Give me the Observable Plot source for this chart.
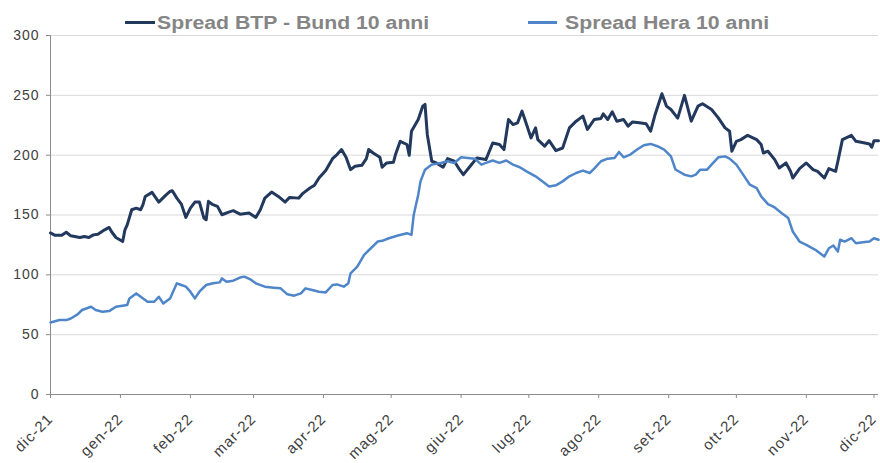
<!DOCTYPE html>
<html>
<head>
<meta charset="utf-8">
<script src="https://cdn.jsdelivr.net/npm/d3@7"></script>
<script src="https://cdn.jsdelivr.net/npm/@observablehq/plot@0.6"></script>
<style>
  body { margin: 0; background: #fff; }
  #wrap { position: relative; width: 880px; height: 463px; overflow: hidden; }
  #chart svg text { letter-spacing: 1px; }
  .sw { position: absolute; height: 3px; }
  .lt { position: absolute; font: bold 18px "Liberation Sans", Arial, sans-serif; color: #858585;
        line-height: 18px; white-space: nowrap; transform: scaleX(1.18); transform-origin: 0 0; }
</style>
</head>
<body>
<div id="wrap">
  <div id="chart"></div>
  <div id="legend"></div>
</div>
<script>
// ---- data ----
const seriesNames = ["Spread BTP - Bund 10 anni", "Spread Hera 10 anni"];
const seriesColors = ["#22385c", "#4f86c9"];

const tickDates = ["2021-12-01","2022-01-01","2022-02-01","2022-03-01","2022-04-01","2022-05-01","2022-06-01","2022-07-01","2022-08-01","2022-09-01","2022-10-01","2022-11-01","2022-12-01"];
const tickLabels = ["dic-21","gen-22","feb-22","mar-22","apr-22","mag-22","giu-22","lug-22","ago-22","set-22","ott-22","nov-22","dic-22"];
const yTicks = [0, 50, 100, 150, 200, 250, 300];

const btpDates = ["2021-12-01","2021-12-03","2021-12-06","2021-12-08","2021-12-10","2021-12-14","2021-12-16","2021-12-18","2021-12-20","2021-12-22","2021-12-25","2021-12-27","2021-12-28","2021-12-30",
"2022-01-02","2022-01-03","2022-01-04","2022-01-06","2022-01-08","2022-01-10","2022-01-11","2022-01-12","2022-01-15","2022-01-18","2022-01-21","2022-01-23","2022-01-24","2022-01-26","2022-01-28","2022-01-30",
"2022-02-01","2022-02-03","2022-02-05","2022-02-07","2022-02-08","2022-02-09","2022-02-11","2022-02-13","2022-02-15","2022-02-18","2022-02-20","2022-02-23","2022-02-27",
"2022-03-02","2022-03-04","2022-03-06","2022-03-09","2022-03-12","2022-03-15","2022-03-17","2022-03-21","2022-03-23","2022-03-26","2022-03-28","2022-03-30",
"2022-04-02","2022-04-05","2022-04-07","2022-04-09","2022-04-11","2022-04-13","2022-04-15","2022-04-18","2022-04-20","2022-04-21","2022-04-23","2022-04-26","2022-04-27","2022-04-29",
"2022-05-02","2022-05-03","2022-05-05","2022-05-08","2022-05-09","2022-05-10","2022-05-13","2022-05-15","2022-05-16","2022-05-17","2022-05-19","2022-05-21","2022-05-24","2022-05-26","2022-05-29","2022-05-31",
"2022-06-02","2022-06-05","2022-06-08","2022-06-12","2022-06-15","2022-06-18","2022-06-20","2022-06-22","2022-06-24","2022-06-26","2022-06-28","2022-06-29",
"2022-07-02","2022-07-04","2022-07-05","2022-07-08","2022-07-10","2022-07-13","2022-07-16","2022-07-19","2022-07-22","2022-07-25","2022-07-27","2022-07-30",
"2022-08-02","2022-08-03","2022-08-05","2022-08-07","2022-08-09","2022-08-12","2022-08-14","2022-08-16","2022-08-19","2022-08-22","2022-08-24","2022-08-26","2022-08-29","2022-08-31",
"2022-09-02","2022-09-05","2022-09-08","2022-09-11","2022-09-14","2022-09-16","2022-09-20","2022-09-23","2022-09-26","2022-09-28","2022-09-29",
"2022-10-01","2022-10-03","2022-10-06","2022-10-10","2022-10-12","2022-10-13","2022-10-15","2022-10-18","2022-10-20","2022-10-23","2022-10-25","2022-10-26","2022-10-29",
"2022-11-01","2022-11-04","2022-11-06","2022-11-09","2022-11-11","2022-11-14","2022-11-15","2022-11-17","2022-11-21","2022-11-23","2022-11-27","2022-11-29","2022-11-30","2022-12-01","2022-12-03"];
const btpValues = [135,133,133,135.6,132.6,131.2,132,131.2,133.4,134,137.6,139.6,136.2,131.2,
127.8,137.6,141.8,154.4,155.7,154.4,158.6,165.5,168.9,160.8,166.4,169.7,170.3,164.1,159.1,148,
155.7,160.8,160.8,147.4,146,161.4,158.6,157.2,150.2,152.4,153.6,150.7,151.6,
148,154.4,164.1,169.2,165.5,160.8,164.7,164.1,168.3,172.5,174.8,180.9,
187.1,197.1,200.5,204.7,198.2,187.9,190.7,191.5,197.1,204.7,201.8,198.2,189.9,193.5,
194,201,211.6,208.9,199.9,220,229.8,241,242.4,217.3,194.9,193.5,189.9,197.1,194.9,188.8,
183.7,190.7,197.7,196.3,210.2,208.9,204.7,229.8,225.6,227,236.8,231.2,
214.4,222.8,213,207.5,212.1,203.8,206,222.8,228.4,232.6,221.5,229.8,
230.7,234.5,229.8,236.2,228.4,229.8,224.2,227.8,227,226.2,220,234,251.3,241,
238.2,231,250,228.4,241,243,238.2,231.2,222.8,220,203.3,
211.6,213,216.6,213,208.9,201.8,203.3,196.3,189.3,193.5,186.5,180.9,188.8,
193.5,187.9,186.5,180.9,188.8,186.5,194.9,213,216.6,211.6,210.2,209.4,206.6,212.1,212.1];

const heraDates = ["2021-12-01","2021-12-05","2021-12-08","2021-12-10","2021-12-13","2021-12-15","2021-12-19","2021-12-21","2021-12-24","2021-12-27","2021-12-30",
"2022-01-04","2022-01-05","2022-01-08","2022-01-10","2022-01-13","2022-01-16","2022-01-18","2022-01-20","2022-01-23","2022-01-26","2022-01-28","2022-01-30",
"2022-02-01","2022-02-03","2022-02-05","2022-02-08","2022-02-11","2022-02-14","2022-02-15","2022-02-17","2022-02-20","2022-02-23","2022-02-25","2022-02-28",
"2022-03-02","2022-03-06","2022-03-10","2022-03-13","2022-03-16","2022-03-19","2022-03-22","2022-03-24","2022-03-27","2022-03-30",
"2022-04-02","2022-04-05","2022-04-07","2022-04-10","2022-04-12","2022-04-13","2022-04-16","2022-04-19","2022-04-22","2022-04-25","2022-04-27","2022-04-30",
"2022-05-04","2022-05-08","2022-05-10","2022-05-11","2022-05-13","2022-05-14","2022-05-16","2022-05-19","2022-05-23","2022-05-26","2022-05-29",
"2022-06-01","2022-06-04","2022-06-07","2022-06-10","2022-06-12","2022-06-15","2022-06-18","2022-06-21","2022-06-24","2022-06-27","2022-06-30",
"2022-07-04","2022-07-08","2022-07-10","2022-07-13","2022-07-16","2022-07-19","2022-07-22","2022-07-25","2022-07-28","2022-07-30",
"2022-08-02","2022-08-05","2022-08-08","2022-08-10","2022-08-12","2022-08-15","2022-08-18","2022-08-21","2022-08-24","2022-08-27","2022-08-30",
"2022-09-02","2022-09-04","2022-09-08","2022-09-11","2022-09-13","2022-09-15","2022-09-18","2022-09-20","2022-09-23","2022-09-26","2022-09-28",
"2022-10-01","2022-10-04","2022-10-07","2022-10-10","2022-10-12","2022-10-15","2022-10-18","2022-10-21","2022-10-24","2022-10-26","2022-10-29",
"2022-11-01","2022-11-05","2022-11-09","2022-11-11","2022-11-13","2022-11-15","2022-11-16","2022-11-18","2022-11-21","2022-11-23","2022-11-26","2022-11-29","2022-12-01","2022-12-03"];
const heraValues = [60.2,62.2,62.2,63.5,66.9,70.6,73.3,70.6,69.2,69.7,73.3,
74.8,80.3,84.5,81.7,77.5,77.5,81.7,76.1,80.3,92.9,91.5,90.1,
85.9,80.3,85.9,91.5,92.9,93.7,97,94.3,95.1,97.7,98.5,95.7,
92.9,90.1,89.3,88.7,83.7,82.6,84.5,88.7,87.3,85.9,
85.3,91.5,92,90.1,92.9,101.3,106.9,116.7,122.2,127.8,128.4,130.6,
132.9,134.8,133.4,150.2,167,178.1,187.9,192.1,193.5,194.9,193.5,
198.2,197.7,197.1,192.1,193.5,195.5,193.5,195.5,192.1,189.9,186.5,
182.3,176.7,173.9,174.8,178.1,182.3,185.1,187.1,185.1,188.8,
194.9,197.1,197.7,202.7,198.2,200.5,204.7,208.3,209.4,207.5,204.7,
199,188,183.7,182.3,183.7,187.9,187.9,192.1,198.2,199,197.1,
192.1,183.7,175.3,172.5,165.5,159.1,156.3,151.6,147.4,136.2,127.8,
125.1,120.9,115.3,122.2,124.5,119.4,129.3,127.8,130.6,126.4,127.2,127.8,130.6,129.3];

// ---- build ----
const toD = s => new Date(s + "T00:00:00Z");
const btp = btpDates.map((d, i) => ({date: toD(d), value: btpValues[i]}));
const hera = heraDates.map((d, i) => ({date: toD(d), value: heraValues[i]}));
const ticks = tickDates.map(toD);
const labelMap = new Map(ticks.map((d, i) => [+d, tickLabels[i]]));
const xDomain = [toD("2021-12-01"), toD("2022-12-03")];

const chart = Plot.plot({
  width: 880,
  height: 463,
  marginLeft: 50,
  marginRight: 2,
  marginTop: 35,
  marginBottom: 69,
  style: {fontFamily: "'Liberation Sans', Arial, sans-serif", fontSize: "14px", color: "#404040", background: "#fff"},
  x: {type: "utc", domain: xDomain, label: null},
  y: {domain: [0, 300], label: null},
  marks: [
    Plot.gridY(yTicks, {stroke: "#d9d9d9", strokeOpacity: 1, strokeWidth: 1}),
    Plot.ruleY([0], {stroke: "#8c8c8c", strokeWidth: 1}),
    Plot.ruleX([xDomain[0]], {y1: 0, y2: 300, stroke: "#8c8c8c", strokeWidth: 1}),
    Plot.axisY(yTicks, {tickSize: 4, tickPadding: 7, stroke: "#8c8c8c", fill: "#404040", fontSize: 14, label: null}),
    Plot.axisX(ticks, {tickSize: 4, tickPadding: 18, tickRotate: -45, stroke: "#8c8c8c", fill: "#404040", fontSize: 15, label: null, tickFormat: d => labelMap.get(+d)}),
    Plot.line(btp, {x: "date", y: "value", stroke: seriesColors[0], strokeWidth: 3, strokeLinejoin: "round"}),
    Plot.line(hera, {x: "date", y: "value", stroke: seriesColors[1], strokeWidth: 2.5, strokeLinejoin: "round"})
  ]
});
document.getElementById("chart").appendChild(chart);

// ---- legend (HTML overlay above plot area) ----
const legend = document.getElementById("legend");
const legPos = [{sw: 125, swW: 30, tx: 157}, {sw: 528, swW: 29, tx: 565}];
seriesNames.forEach((name, i) => {
  const sw = document.createElement("div");
  sw.className = "sw";
  sw.style.left = legPos[i].sw + "px";
  sw.style.top = "21px";
  sw.style.width = legPos[i].swW + "px";
  sw.style.background = seriesColors[i];
  legend.appendChild(sw);
  const t = document.createElement("span");
  t.className = "lt";
  t.style.left = legPos[i].tx + "px";
  t.style.top = "14px";
  t.textContent = name;
  legend.appendChild(t);
});
</script>
</body>
</html>
